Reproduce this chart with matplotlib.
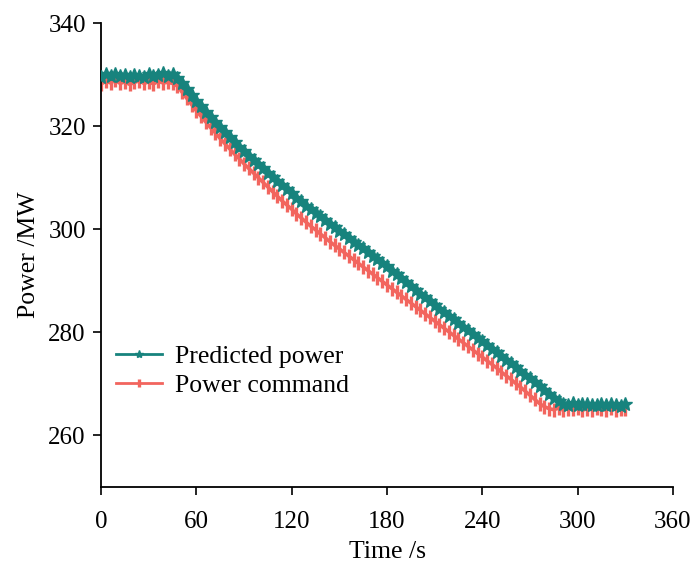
import matplotlib
matplotlib.use("Agg")
import matplotlib.pyplot as plt
import numpy as np

plt.rcParams['font.family'] = ['Liberation Serif', 'DejaVu Serif']

# time samples (s), every 3 s
time_s = list(range(0, 331, 3))

predicted_power = [
    # 0-45 s
    329.6, 330.1, 329.8, 330.2, 329.7, 329.9, 329.5, 330.0, 329.8, 329.6, 330.1, 329.7, 329.9, 330.3, 329.8, 330.1,
    # 48-291 s
    329.4, 328.3, 327.2, 326.0, 324.9, 323.9, 322.8, 321.7, 320.8, 319.9, 318.8, 317.9, 317.0, 316.0, 315.2,
    314.2, 313.4, 312.6, 311.8, 310.9, 310.2, 309.3, 308.6, 307.8, 307.0, 306.1, 305.4, 304.6, 304.0, 303.1,
    302.5, 301.8, 301.0, 300.4, 299.7, 299.0, 298.4, 297.6, 297.0, 296.3, 295.6, 294.9, 294.3, 293.5, 292.8,
    292.0, 291.3, 290.5, 289.8, 289.0, 288.3, 287.5, 286.8, 286.1, 285.4, 284.6, 283.9, 283.2, 282.5, 281.8,
    281.1, 280.4, 279.7, 279.0, 278.3, 277.5, 276.8, 276.1, 275.4, 274.7, 274.0, 273.3, 272.6, 271.8, 271.1,
    270.3, 269.6, 268.8, 268.0, 267.3, 266.6, 266.2,
    # 294-330 s
    266.0, 266.3, 265.9, 266.1, 266.2, 265.9, 266.0, 266.2, 265.9, 266.1, 266.0, 265.8, 266.1,
]

power_command = [
    # 0-45 s
    328.2, 328.7, 328.4, 328.9, 328.3, 328.6, 328.1, 328.5, 328.8, 328.3, 328.6, 328.2, 328.7, 328.4, 328.5, 328.3,
    # 48-282 s
    327.8, 326.6, 325.4, 324.2, 323.0, 321.9, 320.8, 319.7, 318.7, 317.6, 316.6, 315.6, 314.6, 313.7, 312.7,
    311.8, 310.9, 310.0, 309.1, 308.2, 307.3, 306.4, 305.5, 304.7, 303.9, 303.0, 302.2, 301.4, 300.6, 299.9,
    299.1, 298.4, 297.6, 296.9, 296.2, 295.5, 294.8, 294.1, 293.4, 292.7, 292.0, 291.3, 290.6, 289.9, 289.2,
    288.5, 287.8, 287.1, 286.4, 285.7, 285.0, 284.3, 283.6, 282.9, 282.2, 281.5, 280.8, 280.1, 279.4, 278.7,
    278.0, 277.3, 276.6, 275.9, 275.2, 274.5, 273.8, 273.1, 272.3, 271.6, 270.9, 270.1, 269.4, 268.6, 267.8,
    267.0, 266.2, 265.6, 265.2,
    # 285-330 s
    265.0, 265.3, 264.9, 265.2, 265.1, 265.4, 264.9, 265.2, 265.0, 265.3, 265.1, 264.9, 265.3, 265.0, 265.2, 265.1,
]

x_ticks = [0, 60, 120, 180, 240, 300, 360]
y_ticks = [260, 280, 300, 320, 340]
series_labels = ["Predicted power", "Power command"]

teal = '#17837d'
salmon = '#f2655e'

fig = plt.figure(figsize=(6.97, 5.64), dpi=100)
ax = fig.add_axes([0.145, 0.1365, 0.8205, 0.8225])

ax.plot(time_s, predicted_power, color=teal, lw=2.6, marker='*', ms=10,
        mec=teal, mfc=teal, label=series_labels[0], zorder=3)
ax.plot(time_s, power_command, color=salmon, lw=2.6, marker='|', ms=10, mew=2.4,
        mec=salmon, label=series_labels[1], zorder=2)

ax.set_xlim(0, 360)
ax.set_ylim(250, 340)
ax.set_xticks(x_ticks)
ax.set_yticks(y_ticks)
ax.tick_params(direction='out', length=6, width=1.2, labelsize=18)
ax.tick_params(axis='x', pad=11)
ax.tick_params(axis='y', pad=5)
for s in ['top', 'right']:
    ax.spines[s].set_visible(False)
for s in ['left', 'bottom']:
    ax.spines[s].set_linewidth(1.3)

ax.set_xlabel('Time /s', fontsize=18.5, labelpad=6)
ax.set_ylabel('Power /MW', fontsize=18.5, labelpad=6)

leg = ax.legend(loc='upper left', bbox_to_anchor=(-0.015, 0.355), frameon=False,
                fontsize=18.5, handlelength=1.8, handletextpad=0.5, labelspacing=0.2,
                markerscale=0.6)
for h in leg.legend_handles:
    h.set_linewidth(2.0)

fig.savefig('out.png', dpi=100)
